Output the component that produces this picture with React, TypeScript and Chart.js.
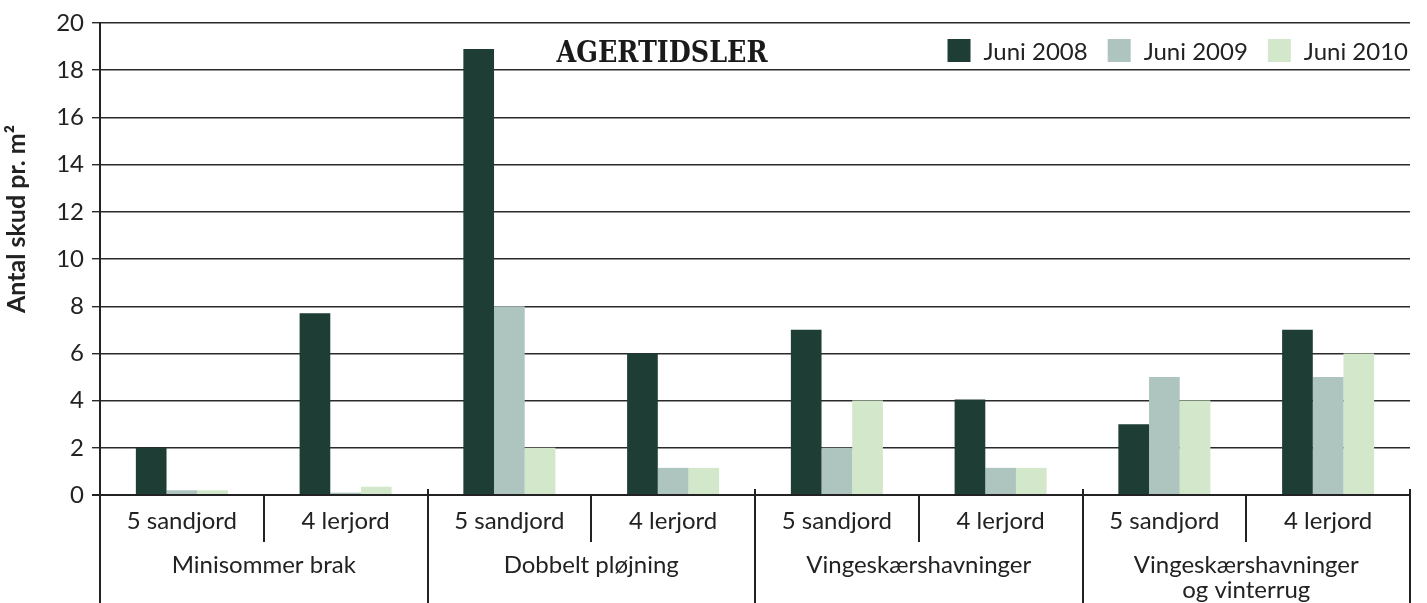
import { useEffect, useRef } from 'react';
import { Chart, registerables } from 'chart.js';

Chart.register(...registerables);

const categories = ['5 sandjord', '4 lerjord', '5 sandjord', '4 lerjord', '5 sandjord', '4 lerjord', '5 sandjord', '4 lerjord'];
const groups: string[][] = [['Minisommer brak'], ['Dobbelt pløjning'], ['Vingeskærshavninger'], ['Vingeskærshavninger', 'og vinterrug']];
const seriesNames = ['Juni 2008', 'Juni 2009', 'Juni 2010'];
const juni2008 = [2, 7.7, 18.9, 6, 7, 4.05, 3, 7];
const juni2009 = [0.2, 0.1, 8, 1.15, 2, 1.15, 5, 5];
const juni2010 = [0.2, 0.35, 2, 1.15, 4, 1.15, 4, 6];
const yMin = 0;
const yMax = 20;
const yStep = 2;
const chartTitle = 'AGERTIDSLER';
const yTitle = 'Antal skud pr. m²';
const colors = ['#1e3d34', '#aec5bf', '#d3e7cb'];

const FONT = 'Lato, "Noto Sans", sans-serif';
const TXT = '#222222';

const overlay = {
  id: 'overlay',
  afterDraw(chart: any) {
    const { ctx, chartArea } = chart;
    const xs = chart.scales.x;
    const n = categories.length;
    const w = (chartArea.right - chartArea.left) / n;
    const L = chartArea.left;
    const B = chartArea.bottom;
    const H = chart.height;
    ctx.save();
    ctx.strokeStyle = '#222';
    ctx.lineWidth = 2;
    ctx.beginPath();
    ctx.moveTo(L - 8, B);
    ctx.lineTo(chartArea.right, B);
    ctx.stroke();
    ctx.beginPath();
    ctx.moveTo(L, chartArea.top);
    ctx.lineTo(L, H);
    ctx.stroke();
    for (let i = 1; i <= n; i++) {
      const x = Math.round(L + i * w);
      ctx.beginPath();
      if (i % 2 === 0) {
        ctx.moveTo(x, B - 6);
        ctx.lineTo(x, H);
      } else {
        ctx.moveTo(x, B);
        ctx.lineTo(x, B + 47);
      }
      ctx.stroke();
    }
    ctx.fillStyle = TXT;
    ctx.font = `24px ${FONT}`;
    ctx.textAlign = 'center';
    ctx.textBaseline = 'alphabetic';
    categories.forEach((c, i) => {
      const cx = xs.getPixelForValue(i);
      ctx.fillText(c, cx, B + 34);
    });
    groups.forEach((g, gi) => {
      const cx = L + (gi * 2 + 1) * w;
      g.forEach((line, li) => {
        ctx.fillText(line, cx, B + 78 + li * 25);
      });
    });
    ctx.font = `bold 30px "DejaVu Serif Condensed", "DejaVu Serif", serif`;
    const tw = ctx.measureText(chartTitle).width;
    ctx.save();
    ctx.translate(662, 62);
    ctx.scale(211 / tw, 1);
    ctx.textAlign = 'center';
    ctx.fillStyle = '#1a1a1a';
    ctx.fillText(chartTitle, 0, 0);
    ctx.restore();
    ctx.save();
    ctx.translate(25, 219);
    ctx.rotate(-Math.PI / 2);
    ctx.font = `bold 25px ${FONT}`;
    ctx.textAlign = 'center';
    ctx.fillStyle = TXT;
    ctx.fillText(yTitle, 0, 0);
    ctx.restore();
    ctx.font = `24px ${FONT}`;
    ctx.textAlign = 'left';
    const sq = 23;
    const gap = 13;
    const between = 20;
    let total = 0;
    seriesNames.forEach((s, i) => {
      total += sq + gap + ctx.measureText(s).width + (i < seriesNames.length - 1 ? between : 0);
    });
    let x = 1408 - total;
    seriesNames.forEach((s, i) => {
      ctx.fillStyle = colors[i];
      ctx.fillRect(x, 39, sq, sq);
      ctx.fillStyle = TXT;
      ctx.fillText(s, x + sq + gap, 60);
      x += sq + gap + ctx.measureText(s).width + between;
    });
    ctx.restore();
  },
};

export default function App() {
  const ref = useRef<HTMLCanvasElement>(null);
  useEffect(() => {
    document.body.style.margin = '0';
    const chart = new Chart(ref.current!, {
      type: 'bar',
      data: {
        labels: categories,
        datasets: [juni2008, juni2009, juni2010].map((d, i) => ({
          label: seriesNames[i],
          data: d,
          backgroundColor: colors[i],
          borderWidth: 0,
          categoryPercentage: 0.562,
          barPercentage: 1,
        })),
      },
      options: {
        responsive: false,
        animation: false,
        layout: { padding: { left: 0, top: 23, right: 17, bottom: 108 } },
        plugins: { legend: { display: false }, tooltip: { enabled: false }, title: { display: false } },
        scales: {
          x: { display: false },
          y: {
            min: yMin,
            max: yMax,
            afterFit: (s: any) => { s.width = 100; },
            ticks: { stepSize: yStep, color: TXT, font: { family: FONT, size: 24 }, padding: 8 },
            grid: { color: '#2a2a2a', lineWidth: 1.4, tickLength: 8, drawTicks: true },
            border: { display: true, color: '#222', width: 2 },
          },
        },
      },
      plugins: [overlay],
    });
    return () => chart.destroy();
  }, []);
  return <canvas ref={ref} width={1427} height={603} />;
}
